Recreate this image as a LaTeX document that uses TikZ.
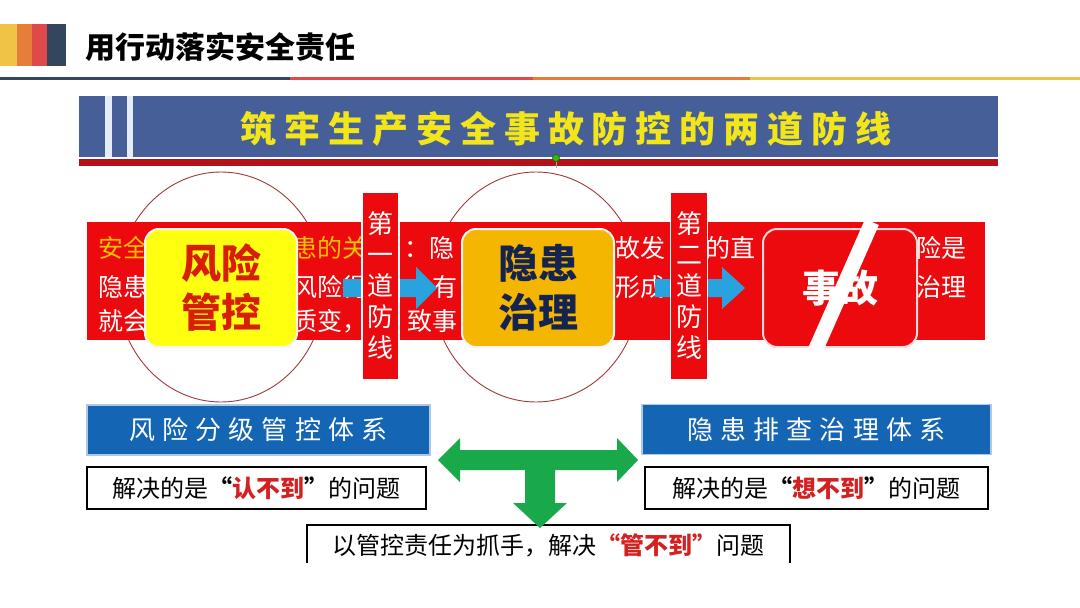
\documentclass[tikz,border=0pt]{standalone}
\usepackage{fontspec}
\setmainfont{Noto Sans CJK SC}
\definecolor{hdyellow}{HTML}{F0C346}
\definecolor{hdorange}{HTML}{E67E3A}
\definecolor{hdred}{HTML}{DE4A4A}
\definecolor{hdnavy}{HTML}{34465E}
\definecolor{bannerblue}{HTML}{465F98}
\definecolor{stripe}{HTML}{E6ECF6}
\definecolor{darkred}{HTML}{B3121B}
\definecolor{titleyellow}{HTML}{F2E61A}
\definecolor{bandred}{HTML}{EC0A0E}
\definecolor{bandgold}{HTML}{F2C200}
\definecolor{ringred}{HTML}{A23A3A}
\definecolor{arrowblue}{HTML}{29A3DD}
\definecolor{boxyellow}{HTML}{FFFF10}
\definecolor{boxgold}{HTML}{F4B600}
\definecolor{navytxt}{HTML}{14234F}
\definecolor{riskred}{HTML}{D81E06}
\definecolor{sysblue}{HTML}{1565B5}
\definecolor{hlred}{HTML}{D42020}
\definecolor{arrowgreen}{HTML}{19A94A}
\tikzset{
  bandtxt/.style={font=\fontsize{25}{25}\selectfont, text=white, inner sep=0pt},
  bandgoldtxt/.style={bandtxt, text=bandgold},
  barbox/.style={fill=bandred, draw=white, line width=1.5pt, minimum width=37pt,
    minimum height=188pt, inner sep=0pt, align=center, text=white,
    font=\fontsize{26}{31}\selectfont},
  bigbox/.style={rounded corners=14pt, draw=white!92!gray, line width=2pt,
    minimum width=152pt, minimum height=118pt, align=center, inner sep=0pt,
    font=\bfseries\fontsize{40}{49}\selectfont},
  bluebox/.style={fill=sysblue, draw=sysblue!35, line width=1.2pt, minimum height=50pt,
    text=white, inner sep=0pt, font=\fontsize{26}{26}\selectfont\addfontfeatures{LetterSpace=27}},
  answerbox/.style={draw=black, line width=1.2pt, fill=white, minimum height=42pt,
    inner sep=0pt, font=\fontsize{24}{24}\selectfont},
  ring/.style={draw=ringred, line width=0.9pt},
}
\begin{document}
\begin{tikzpicture}[x=1pt,y=-1pt]
\useasboundingbox (0,0) rectangle (1080,608);
\fill[white] (0,0) rectangle (1080,608);
% ---- slide header
\fill[hdyellow] (0,24) rectangle (17,66);
\fill[hdorange] (17,24) rectangle (32,66);
\fill[hdred] (32,24) rectangle (47,66);
\fill[hdnavy] (47,24) rectangle (66,66);
\node[anchor=west, inner sep=0pt, font=\bfseries\fontsize{30}{30}\selectfont] (title) at (85,47) {用行动落实安全责任};
\fill[hdnavy] (0,76.5) rectangle (290,79.5);
\fill[hdred] (290,76.5) rectangle (533,79.5);
\fill[hdorange] (533,76.5) rectangle (750,79.5);
\fill[hdyellow] (750,76.5) rectangle (1080,79.5);
% ---- banner
\fill[bannerblue] (79,96) rectangle (998,157);
\fill[stripe] (105,96) rectangle (112,157);
\fill[stripe] (127,96) rectangle (133,157);
\fill[darkred] (79,159) rectangle (998,166);
\node[text=titleyellow, inner sep=0pt, font=\bfseries\fontsize{36}{36}\selectfont\addfontfeatures{LetterSpace=22}] (bannertitle) at (566,129) {筑牢生产安全事故防控的两道防线};
\draw[gray!70, line width=0.6pt] (556,160) -- (556,168);
\fill[green!60!black!70!lime, draw=green!40!black, line width=0.5pt] (556,158) circle (3.5);
% ---- rings
\draw[ring] (221,287) ellipse [x radius=104, y radius=115];
\draw[ring] (536,287) ellipse [x radius=104, y radius=115];
% ---- red band with text
\fill[bandred] (87,222) rectangle (985,340);
\node[bandgoldtxt, anchor=west] (t1a) at (98,248) {安全};
\node[bandgoldtxt, anchor=west] (t1b) at (292,248) {患的关};
\node[bandtxt, anchor=west] (t1c) at (404,248) {：隐};
\node[bandtxt, anchor=west] (t1d) at (615,248) {故发};
\node[bandtxt, anchor=east] (t1e) at (756,248) {的直};
\node[bandtxt, anchor=west] (t1f) at (916,248) {险是};
\node[bandtxt, anchor=west] (t2a) at (98,287) {隐患};
\node[bandtxt, anchor=west] (t2b) at (292,287) {风险得};
\node[bandtxt, anchor=east] (t2c) at (458,287) {有};
\node[bandtxt, anchor=west] (t2d) at (615,287) {形成};
\node[bandtxt, anchor=west] (t2e) at (916,287) {治理};
\node[bandtxt, anchor=west] (t3a) at (98,321) {就会};
\node[bandtxt, anchor=west] (t3b) at (292,321) {质变，};
\node[bandtxt, anchor=east] (t3c) at (458,321) {致事};
% ---- blue arrows
\fill[arrowblue] (343,279) -- (416,279) -- (416,267) -- (437,288) -- (416,309) -- (416,297) -- (343,297) -- cycle;
\fill[arrowblue] (655,279) -- (722,279) -- (722,267) -- (745,288) -- (722,309) -- (722,297) -- (655,297) -- cycle;
% ---- defence-line bars
\node[barbox] (bar1) at (380.5,286) {第\\一\\道\\防\\线};
\node[barbox] (bar2) at (689,286) {第\\二\\道\\防\\线};
% ---- main boxes
\node[bigbox, fill=boxyellow, text=riskred] (risk) at (221,288) {风险\\管控};
\node[bigbox, fill=boxgold, text=navytxt] (hazard) at (538,288) {隐患\\治理};
\node[bigbox, fill=bandred, draw=red!15, text=white, minimum width=154pt, font=\bfseries\fontsize{38}{38}\selectfont] (accident) at (840,288) {事故};
\draw[white, line width=15pt] (815,351) -- (872,222);
% ---- systems
\node[bluebox, minimum width=343pt] (sys1) at (258.5,430) {风险分级管控体系};
\node[bluebox, minimum width=349pt] (sys2) at (816.5,429.5) {隐患排查治理体系};
\node[answerbox, minimum width=339pt] (ans1) at (256.5,488) {解决的是{\bfseries “}\textcolor{hlred}{\bfseries 认不到}{\bfseries ”}的问题};
\node[answerbox, minimum width=343pt] (ans2) at (816.5,488) {解决的是{\bfseries “}\textcolor{hlred}{\bfseries 想不到}{\bfseries ”}的问题};
% ---- bottom box (cut off by image edge)
\draw[black, line width=1.2pt] (307,563) -- (307,525) -- (790,525) -- (790,563);
\node[inner sep=0pt, font=\fontsize{24}{24}\selectfont] (ans3) at (548.5,545) {以管控责任为抓手，解决\textcolor{hlred}{\bfseries “管不到”}问题};
% ---- green T arrow
\fill[arrowgreen] (438,460) -- (460,438) -- (460,450) -- (617,450) -- (617,438) -- (638,460)
  -- (617,482) -- (617,470) -- (555,470) -- (555,503) -- (567,503) -- (540,528)
  -- (513,503) -- (525,503) -- (525,470) -- (460,470) -- (460,482) -- cycle;
\end{tikzpicture}
\end{document}
